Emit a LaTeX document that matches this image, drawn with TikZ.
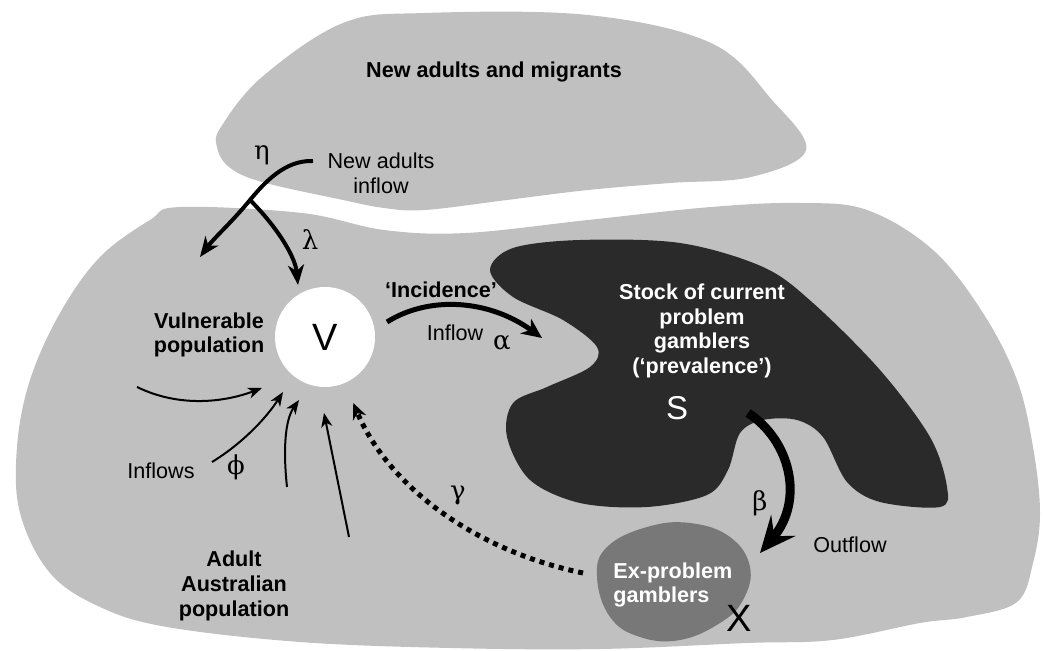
\documentclass[tikz,border=0pt]{standalone}
\usepackage{fontspec}
\setmainfont{Liberation Sans}
\newfontfamily\grk{DejaVu Serif}
\usetikzlibrary{arrows.meta}
\definecolor{pale}{HTML}{C0C0C0}
\definecolor{ink}{HTML}{2A2A2A}
\definecolor{mid}{HTML}{787878}

\begin{document}
\begin{tikzpicture}[x=0.5pt,y=-0.5pt,
  lbl/.style={font=\fontsize{10.8}{12.4}\selectfont,align=center,inner sep=0pt},
  bold/.style={lbl,font=\fontsize{10.8}{12.4}\selectfont\bfseries},
  sym/.style={font=\fontsize{13}{13}\selectfont\grk,inner sep=0pt},
  big/.style={font=\fontsize{19}{19}\selectfont,inner sep=0pt},
  flow/.style={-{Stealth[length=7pt,width=5.5pt,inset=2pt]},line width=1pt},
  bigflow/.style={-{Stealth[length=10pt,width=8pt,inset=3pt]},line width=2pt}]
\useasboundingbox (0,0) rectangle (1043,651);
\fill[pale] plot[smooth cycle,tension=0.6] coordinates {(180,207) (302,213)
  (384,230) (466,233) (588,220) (711,207) (800,203) (867,210) (933,250)
  (983,313) (1017,380) (1033,447) (1040,513) (1033,563) (1017,602) (967,617)
  (920,623) (833,640) (747,643) (600,649) (450,648) (300,642) (167,627)
  (100,607) (50,573) (20,513) (17,447) (30,380) (60,313) (100,257) (150,220)};
\fill[pale] plot[smooth cycle,tension=0.6] coordinates {(217,147) (221,127)
  (262,77) (343,23) (425,13) (588,15) (711,43) (772,100) (806,150) (751,177)
  (670,183) (588,190) (507,200) (425,210) (384,208) (343,200) (262,182) (229,167)};
\fill[ink] plot[smooth cycle,tension=0.55] coordinates {(490,270) (513,248)
  (580,240) (680,243) (763,267) (813,303) (880,370) (930,437) (947,487)
  (940,507) (880,502) (847,482) (823,437) (797,420) (763,420) (740,433)
  (728,470) (707,495) (647,507) (580,503) (530,480) (507,437) (513,403)
  (547,387) (590,367) (597,347) (563,320) (513,297)};
\fill[mid] plot[smooth cycle,tension=0.7] coordinates {(597,577) (607,547)
  (647,527) (690,523) (730,537) (750,567) (743,600) (720,623) (680,640)
  (640,637) (610,617)};
\node[circle,fill=white,minimum size=50pt,big] (V) at (325,337) {V};
\node[big,white,font=\fontsize{16.5}{16.5}\selectfont] (S) at (677,408) {S};
\node[big] (X) at (739,618) {X};

\node[bold] (mig) at (494,72) {New adults and migrants};
\node[lbl] (newad) at (381,173) {New adults\\inflow};
\node[bold] (vuln) at (209,335) {Vulnerable\\population};
\node[bold] (inc) at (441,290) {`Incidence'};
\node[lbl] (infl) at (455,333) {Inflow};
\node[bold,white] (stock) at (702,331) {Stock of current\\problem\\gamblers\\(`prevalence')};
\node[lbl] (outf) at (850,545) {Outflow};
\node[bold,white,align=left,anchor=west] (expg) at (613,585) {Ex-problem\\gamblers};
\node[lbl] (infls) at (161,471) {Inflows};
\node[bold] (adult) at (234,586) {Adult\\Australian\\population};
\node[sym] (eta) at (262,155) {η};
\node[sym] (lam) at (310,240) {λ};
\node[sym] (alp) at (502,343) {α};
\node[sym] (bet) at (760,503) {β};
\node[sym] (gam) at (458,495) {γ};
\node[sym] (phi) at (236,467) {ϕ};

\coordinate (nain) at (313,161);
\coordinate (fork) at (250,200);
\coordinate (vl) at (200,257);
\coordinate (vt) at (298,285);
\draw[bigflow] (nain) .. controls (285,160) and (265,182) .. (fork)
  .. controls (232,222) and (214,238) .. (vl);
\draw[bigflow] (fork) .. controls (275,225) and (295,255) .. (vt);
\coordinate (incs) at (387,322);
\coordinate (inct) at (542,338);
\draw[bigflow,line width=2.5pt,-{Stealth[length=10pt,width=9pt,inset=3pt]}]
  (incs) .. controls (430,295) and (490,300) .. (inct);
\coordinate (outs) at (748,413);
\coordinate (outt) at (760,553);
\draw[line width=4.5pt,-{Stealth[length=18pt,width=16pt,inset=7pt]}]
  (outs) .. controls (790,440) and (805,500) .. (outt);
\coordinate (exs) at (583,573);
\coordinate (ext) at (352,400);
\draw[line width=2.5pt,dash pattern=on 2.5pt off 2.5pt,
  -{Stealth[length=8pt,width=7pt,inset=2.5pt,sep]}]
  (exs) .. controls (480,552) and (390,490) .. (ext);
\coordinate (f1) at (137,387); \coordinate (t1) at (262,388);
\coordinate (f2) at (212,462); \coordinate (t2) at (283,392);
\coordinate (f3) at (287,487); \coordinate (t3) at (299,400);
\coordinate (f4) at (349,537); \coordinate (t4) at (324,413);
\draw[flow] (f1) .. controls (180,408) and (225,402) .. (t1);
\draw[flow] (f2) .. controls (240,445) and (265,420) .. (t2);
\draw[flow] (f3) .. controls (283,450) and (285,420) .. (t3);
\draw[flow] (f4) -- (t4);
\end{tikzpicture}
\end{document}
